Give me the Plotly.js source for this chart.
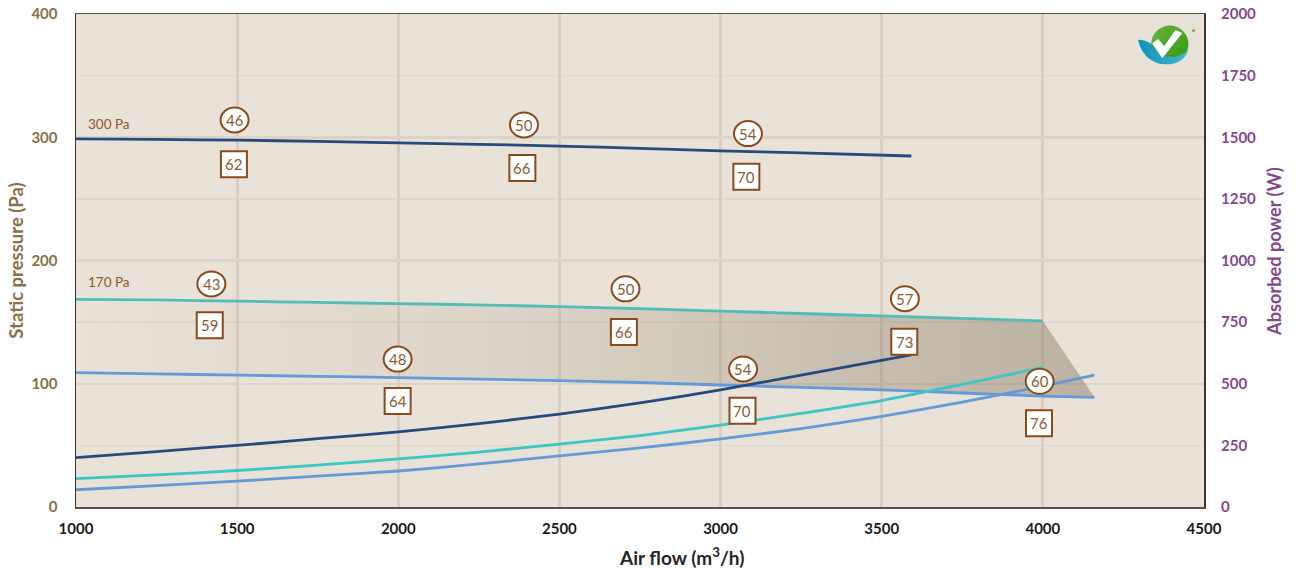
<!DOCTYPE html>
<html>
<head>
<meta charset="utf-8">
<script src="https://cdn.plot.ly/plotly-3.0.1.min.js"></script>
<style>html,body{margin:0;padding:0;background:#fff}#chart{width:1296px;height:572px}</style>
</head>
<body>
<div id="chart"></div>
<script>
// Static pressure curves (Pa, left axis)
var pressureDarkX = [1000,1250,1500,1750,2000,2250,2500,2750,3000,3250,3592];
var pressureDarkY = [298.7,298.2,297.6,296.7,295.5,294.3,292.8,291,289,287.3,284.8];
var pressureTealX = [1000,1250,1500,1750,2000,2250,2500,2750,3000,3250,3500,3750,4000];
var pressureTealY = [168.5,168,167,166,165,164,162.5,161,159,157,155,153,151];
var pressureBlueX = [1000,1250,1500,1750,2000,2250,2500,2750,3000,3250,3500,3750,4000,4160];
var pressureBlueY = [109,108,107,106,105,103.8,102.5,101,99,97,95,92.5,90,89];
// Absorbed power curves (W, right axis)
var powerDarkX = [1000,1250,1500,1750,2000,2250,2500,2750,3000,3250,3592];
var powerDarkY = [200,225,250,277,305,338,377,422,475,535,617];
var powerTealX = [1000,1250,1500,1750,2000,2250,2500,2750,3000,3250,3500,3750,4000];
var powerTealY = [115,130,148,170,195,223,255,290,332,380,432,497,566];
var powerBlueX = [1000,1250,1500,1750,2000,2250,2500,2750,3000,3250,3500,3750,4000,4160];
var powerBlueY = [70,87,105,125,146,175,207,240,276,318,368,425,490,535];
// Noise badges
var circleX = [1492,2390,3085,1420,2705,3572,1998,3070,3990];
var circleY = [314,310,303,181,177,169,120,112,102];
var circleText = ['46','50','54','43','50','57','48','54','60'];
var squareX = [1490,2385,3080,1415,2700,3570,1998,3068,3988];
var squareY = [278,275,268,147.5,142,134,86,78,68];
var squareText = ['62','66','70','59','66','73','64','70','76'];
// Isobar labels
var isoX = [1030,1030];
var isoY = [311,182.5];
var isoText = ['300 Pa','170 Pa'];

var xTicks = [1000,1500,2000,2500,3000,3500,4000,4500];
var yTicks = [0,100,200,300,400];
var y2Ticks = [0,250,500,750,1000,1250,1500,1750,2000];

var FONT = 'Lato, "Open Sans", sans-serif';
var BROWN = '#8a4a1c';
var DARK = '#264a7d', TEAL = '#3cc6c4', TEAL_P = '#52bdb7', BLUE = '#659ad9';
var NOTICK = 'rgba(0,0,0,0)';

function line(x, y, color, axis) {
  return {x: x, y: y, yaxis: axis, mode: 'lines', type: 'scatter', hoverinfo: 'skip',
          line: {color: color, width: 2.8, shape: 'spline', smoothing: 0.6}};
}
var fillX = pressureTealX.concat(pressureBlueX.slice().reverse());
var fillY = pressureTealY.concat(pressureBlueY.slice().reverse());

var traces = [
  {x: fillX, y: fillY, mode: 'none', type: 'scatter', fill: 'toself', hoverinfo: 'skip',
   fillgradient: {type: 'horizontal', colorscale: [[0,'rgba(150,135,110,0)'],[0.4,'rgba(150,135,110,0.14)'],[0.75,'rgba(130,118,95,0.32)'],[1,'rgba(125,112,90,0.42)']]}},
  line(pressureDarkX, pressureDarkY, DARK, 'y'),
  line(pressureTealX, pressureTealY, TEAL_P, 'y'),
  line(pressureBlueX, pressureBlueY, BLUE, 'y'),
  line(powerDarkX, powerDarkY, DARK, 'y2'),
  line(powerTealX, powerTealY, TEAL, 'y2'),
  line(powerBlueX, powerBlueY, BLUE, 'y2')
];

var shapes = [], annotations = [];
circleX.forEach(function (cx, i) {
  shapes.push({type: 'circle', layer: 'above', xref: 'x', yref: 'y', xsizemode: 'pixel', ysizemode: 'pixel',
    xanchor: cx, yanchor: circleY[i], x0: -14, x1: 14, y0: -12.5, y1: 12.5,
    fillcolor: '#fff', line: {color: BROWN, width: 2}});
  annotations.push({x: cx, y: circleY[i], xref: 'x', yref: 'y', text: circleText[i], showarrow: false,
    font: {family: FONT, size: 15, color: '#8f5a30'}});
});
squareX.forEach(function (sx, i) {
  shapes.push({type: 'rect', layer: 'above', xref: 'x', yref: 'y', xsizemode: 'pixel', ysizemode: 'pixel',
    xanchor: sx, yanchor: squareY[i], x0: -13, x1: 13, y0: -13, y1: 13,
    fillcolor: '#fff', line: {color: BROWN, width: 2}});
  annotations.push({x: sx, y: squareY[i], xref: 'x', yref: 'y', text: squareText[i], showarrow: false,
    font: {family: FONT, size: 15, color: '#8f5a30'}});
});
isoX.forEach(function (ix, i) {
  annotations.push({x: ix, y: isoY[i], xref: 'x', yref: 'y', xanchor: 'left', text: isoText[i], showarrow: false,
    font: {family: FONT, size: 13.5, color: '#8f5a30'}});
});
// Axis titles that sit off the centre of their axis, as in the reference
annotations.push({xref: 'paper', yref: 'paper', x: (681 - 75.5) / 1128.5, y: -(556 - 507) / 493,
  xanchor: 'center', yanchor: 'middle',
  text: 'Air flow (m<sup>3</sup>/h)', showarrow: false,
  font: {family: FONT, size: 19, color: '#262626', weight: 700}});
annotations.push({xref: 'paper', yref: 'paper', x: (1274 - 75.5) / 1128.5, y: (507 - 251) / 493, textangle: -90,
  xanchor: 'center', yanchor: 'middle',
  text: 'Absorbed power (W)', showarrow: false,
  font: {family: FONT, size: 18.2, color: '#84488e', weight: 700}});

var logoSvg = '<svg xmlns="http://www.w3.org/2000/svg" width="61" height="44" viewBox="0 0 60 44">' +
  '<defs><linearGradient id="g" x1="0" y1="0" x2="1" y2="1"><stop offset="0" stop-color="#6db33f"/><stop offset="1" stop-color="#2f9a0f"/></linearGradient>' +
  '<linearGradient id="b" x1="0" y1="0" x2="1" y2="0"><stop offset="0" stop-color="#0f93b5"/><stop offset="1" stop-color="#48b5d2"/></linearGradient></defs>' +
  '<circle cx="31.5" cy="19.5" r="18.5" fill="url(#g)"/>' +
  '<path d="M0 15 C5 15 9 16 13 19 C18 28 27 33 36 32 C42 31 47 28 50 25 C47 35 38 39.5 29 39.5 C13 39.5 3 29 0 15Z" fill="url(#b)"/>' +
  '<path d="M14 18.5 L20 14.5 L26 21.5 L37 5.5 L44 8.5 L24 33.5 Z" fill="#fff"/>' +
  '<circle cx="55" cy="6" r="1.5" fill="#6db33f"/></svg>';

var layout = {
  width: 1296, height: 572,
  margin: {l: 75.5, r: 92, t: 14, b: 65, pad: 0},
  paper_bgcolor: '#fff', plot_bgcolor: '#e9e2d9',
  showlegend: false,
  xaxis: {
    range: [1000,4500], tickvals: xTicks, ticks: 'outside', ticklen: 7, tickcolor: NOTICK,
    showgrid: true, gridcolor: '#d9cec0', gridwidth: 3, zeroline: false,
    showline: true, linecolor: '#5b5046', linewidth: 1.5, mirror: true,
    tickfont: {family: FONT, size: 15, color: '#1a1a1a', weight: 700}
  },
  yaxis: {
    range: [0,400], tickvals: yTicks, ticks: 'outside', ticklen: 14, tickcolor: NOTICK,
    showgrid: true, gridcolor: '#ddd3c6', gridwidth: 2.5, zeroline: false,
    showline: true, linecolor: '#3a3530', linewidth: 1.5, mirror: true,
    minor: {dtick: 50, showgrid: true, gridcolor: '#e1d8cc', gridwidth: 1.5, ticks: ''},
    tickfont: {family: FONT, size: 15, color: '#8b7048', weight: 700},
    title: {text: 'Static pressure (Pa)', standoff: 3, font: {family: FONT, size: 18.5, color: '#8b7048', weight: 700}}
  },
  yaxis2: {
    overlaying: 'y', side: 'right', range: [0,2000], tickvals: y2Ticks, ticks: 'outside', ticklen: 13, tickcolor: NOTICK,
    showgrid: false, zeroline: false, showline: false,
    tickfont: {family: FONT, size: 15, color: '#84488e', weight: 700}
  },
  shapes: shapes,
  annotations: annotations,
  images: [{source: 'data:image/svg+xml;utf8,' + encodeURIComponent(logoSvg),
            xref: 'paper', yref: 'paper', x: 0.9415, y: 0.9787, sizex: 0.0537, sizey: 0.09,
            xanchor: 'left', yanchor: 'top', sizing: 'contain', layer: 'above'}]
};

Plotly.newPlot('chart', traces, layout, {staticPlot: true, displayModeBar: false});
</script>
</body>
</html>
